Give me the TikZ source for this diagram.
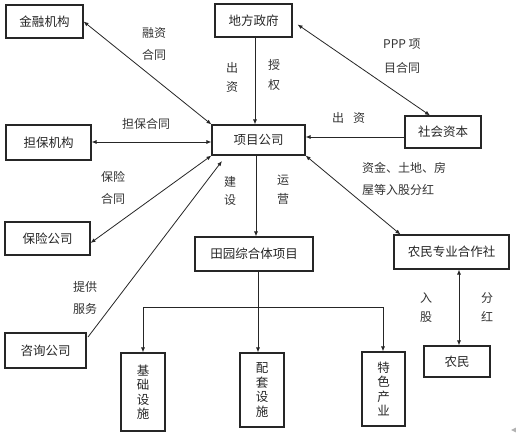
\documentclass[tikz,border=0pt]{standalone}
\usepackage{fontspec}
\setmainfont{Noto Sans CJK SC}
\usetikzlibrary{arrows.meta}
\begin{document}
\begin{tikzpicture}[x=1pt,y=-1pt,
  box/.style={draw=black!85,line width=1.1pt,minimum width=#1,inner sep=0pt,font=\fontsize{12.5}{14}\selectfont,text=black!85},
  vbox/.style={draw=black!85,line width=1.1pt,minimum width=44pt,minimum height=#1,inner sep=0pt,align=center,font=\fontsize{12.5}{14.5}\selectfont,text=black!85},
  lbl/.style={font=\fontsize{12}{14}\selectfont,text=black!80,inner sep=0pt},
  conn/.style={draw=black!85,line width=0.8pt},
  tip/.style={-{Latex[length=5pt,width=4pt]}},
  tips/.style={{Latex[length=5pt,width=4pt]}-{Latex[length=5pt,width=4pt]}}
]
\useasboundingbox[fill=white] (0,0) rectangle (516,438);
% boxes
\node[box=77pt,minimum height=33pt] (jr) at (44.5,21.5) {金融机构};
\node[box=77pt,minimum height=33pt] (df) at (253.5,20.5) {地方政府};
\node[box=85pt,minimum height=35pt] (db) at (48.5,142.5) {担保机构};
\node[box=93pt,minimum height=30pt] (xm) at (258.5,140) {项目公司};
\node[box=76pt,minimum height=32pt] (sh) at (443,132) {社会资本};
\node[box=85pt,minimum height=33pt] (bx) at (47.5,238.5) {保险公司};
\node[box=81pt,minimum height=35pt] (zx) at (45.5,350.5) {咨询公司};
\node[box=118pt,minimum height=34pt] (ty) at (254,254) {田园综合体项目};
\node[box=115pt,minimum height=34pt] (nm) at (451.5,252) {农民专业合作社};
\node[vbox=78pt] (jc) at (143,392) {基\\础\\设\\施};
\node[vbox=74pt] (pt) at (262,390) {配\\套\\设\\施};
\node[vbox=74pt,minimum width=43pt] (ts) at (383.5,389) {特\\色\\产\\业};
\node[box=66pt,minimum height=31pt] (nmin) at (457,361.5) {农民};
% connectors
\draw[conn,tips] (jr.east) -- (xm.north west);
\draw[conn,tip] (df.south -| 255,0) -- (xm.north -| 255,0);
\draw[conn,tips] ([xshift=5pt,yshift=-4pt]df.east) -- ([xshift=-13pt]sh.north);
\draw[conn,tip] (sh.west |- 0,137) -- (xm.east |- 0,137);
\draw[conn,tips] (db.east |- 0,142) -- (xm.west |- 0,142);
\draw[conn,tips] (bx.east |- 0,243) -- (xm.south west);
\coordinate (zxs) at (88,337);
\coordinate (zxe) at (222,161);
\draw[conn,tip] (zxs) -- (zxe);
\draw[conn,tip] (xm.south -| 256,0) -- (ty.north -| 256,0);
\draw[conn,tips] (xm.south east) -- ([xshift=7pt]nm.north west);
\draw[conn,tips] (nm.south -| 459,0) -- (nmin.north -| 459,0);
\coordinate (hl) at (143,307);
\coordinate (hr) at (383,307);
\draw[conn] (hl) -- (hr);
\draw[conn,tip] (ty.south -| 258,0) -- (pt.north -| 258,0);
\draw[conn,tip] (hl) -- (jc.north);
\draw[conn,tip] (hr) -- (ts.north -| 383,0);
% labels
\node[lbl] (l1) at (154,33) {融资};
\node[lbl] (l2) at (154,55) {合同};
\node[lbl] (l3) at (232,68) {出};
\node[lbl] (l4) at (232,87) {资};
\node[lbl] (l5) at (274,65) {授};
\node[lbl] (l6) at (274,85) {权};
\node[lbl,anchor=west] (l7) at (383,44) {PPP 项};
\node[lbl,anchor=west] (l8) at (384,68) {目合同};
\node[lbl] (l9) at (338,118) {出};
\node[lbl] (l10) at (359,118) {资};
\node[lbl] (l11) at (146,124) {担保合同};
\node[lbl] (l12) at (113,177) {保险};
\node[lbl] (l13) at (113,199) {合同};
\node[lbl] (l14) at (230,182) {建};
\node[lbl] (l15) at (230,200) {设};
\node[lbl] (l16) at (283,180) {运};
\node[lbl] (l17) at (283,199) {营};
\node[lbl,anchor=west] (l18) at (362,168) {资金、土地、房};
\node[lbl,anchor=west] (l19) at (362,190) {屋等入股分红};
\node[lbl] (l20) at (85,287) {提供};
\node[lbl] (l21) at (85,309) {服务};
\node[lbl] (l22) at (426,298) {入};
\node[lbl] (l23) at (426,317) {股};
\node[lbl] (l24) at (487,298) {分};
\node[lbl] (l25) at (487,317) {红};
\fill[gray!60] (511,430) -- (516,427.5) -- (516,432.5) -- cycle;
\end{tikzpicture}
\end{document}
